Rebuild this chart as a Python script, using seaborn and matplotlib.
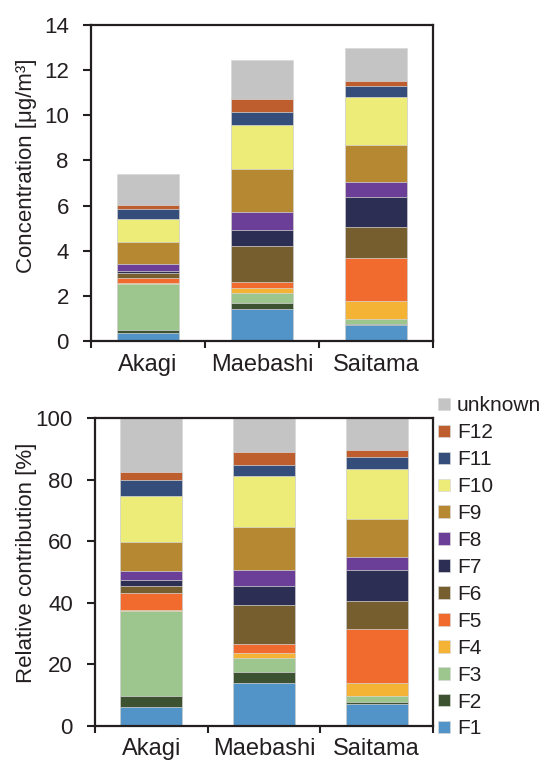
import numpy as np
import pandas as pd
import matplotlib
matplotlib.use("Agg")
import matplotlib.pyplot as plt
import seaborn as sns

sites = ["Akagi", "Maebashi", "Saitama"]
factors = ["F1", "F2", "F3", "F4", "F5", "F6", "F7", "F8", "F9", "F10", "F11", "F12", "unknown"]
colors = ["#5294C8", "#3C5230", "#9CC68E", "#F5B335", "#F26B2E", "#775E2E", "#2C2E54",
          "#6B3F98", "#B58831", "#EEEC78", "#344D7B", "#BE5E2E", "#C4C4C4"]

# concentration [ug/m3], one list per site, F1..F12, unknown
conc_akagi = [0.34, 0.13, 2.07, 0.03, 0.24, 0.19, 0.12, 0.31, 0.95, 1.04, 0.43, 0.18, 1.39]
conc_maebashi = [1.42, 0.27, 0.44, 0.22, 0.25, 1.59, 0.71, 0.80, 1.94, 1.94, 0.56, 0.60, 1.72]
conc_saitama = [0.70, 0.07, 0.20, 0.82, 1.87, 1.38, 1.32, 0.67, 1.67, 2.12, 0.47, 0.25, 1.42]

# relative contribution [%]
rel_akagi = [6.2, 3.4, 27.6, 0.4, 5.5, 2.4, 1.9, 3.0, 9.3, 14.9, 5.4, 2.6, 17.4]
rel_maebashi = [14.0, 3.5, 4.7, 1.5, 3.0, 12.7, 6.2, 5.2, 13.8, 16.5, 3.8, 4.2, 11.0]
rel_saitama = [7.1, 0.75, 2.0, 4.1, 17.5, 9.2, 9.9, 4.3, 12.5, 16.2, 3.8, 2.3, 10.5]

sns.set_style("ticks")
plt.rcParams["font.family"] = ["Liberation Sans", "DejaVu Sans"]
ink = "#231F20"


def stacked(ax, values, legend=False):
    df = pd.DataFrame(np.array(values).T, index=factors, columns=sites)
    cum = df.cumsum()
    # draw from the top segment down so each smaller cumulative bar covers the rest
    for name, col in zip(factors[::-1], colors[::-1]):
        d = pd.DataFrame({"site": sites, "value": cum.loc[name].values})
        sns.barplot(data=d, x="site", y="value", color=col, width=0.55,
                    edgecolor="#d8d8d8", linewidth=0.5, saturation=1,
                    label=name if legend else None, ax=ax)
    ax.set_xlim(-0.5, 2.5)
    ax.set_xticks([-0.5, 0.5, 1.5, 2.5])
    ax.set_xticklabels([])
    ax.set_xticks([0, 1, 2], minor=True)
    ax.set_xticklabels(sites, minor=True, fontsize=17, color=ink)
    ax.tick_params(axis="x", which="minor", length=0, pad=9)
    ax.tick_params(axis="x", which="major", length=5, width=1.5, color=ink)
    ax.tick_params(axis="y", length=6, width=1.5, pad=10, color=ink,
                   labelsize=16, labelcolor=ink)
    ax.set_xlabel("")
    for s in ax.spines.values():
        s.set_visible(True)
        s.set_linewidth(1.6)
        s.set_color(ink)


fig = plt.figure(figsize=(5.43, 7.67), dpi=100)
ax1 = fig.add_axes([0.1676, 0.5554, 0.6298, 0.412])
ax2 = fig.add_axes([0.175, 0.0535, 0.6225, 0.4015])

stacked(ax1, [conc_akagi, conc_maebashi, conc_saitama])
ax1.set_ylim(0, 14)
ax1.set_yticks(range(0, 15, 2))
ax1.set_ylabel("Concentration [μg/m³]", fontsize=16, color=ink)
ax1.yaxis.set_label_coords(-0.158, 0.554)

stacked(ax2, [rel_akagi, rel_maebashi, rel_saitama], legend=True)
ax2.set_ylim(0, 100)
ax2.set_yticks(range(0, 101, 20))
ax2.set_ylabel("Relative contribution [%]", fontsize=16, color=ink)
ax2.yaxis.set_label_coords(-0.171, 0.529)

handles, labels = ax2.get_legend_handles_labels()
ax2.legend(handles, labels, loc="upper left", bbox_to_anchor=(1.015, 1.07),
           frameon=False, fontsize=15, handlelength=0.55, handleheight=0.55,
           handletextpad=0.35, labelspacing=0.38, borderaxespad=0, borderpad=0,
           labelcolor=ink)

fig.savefig("out.png", dpi=100)
